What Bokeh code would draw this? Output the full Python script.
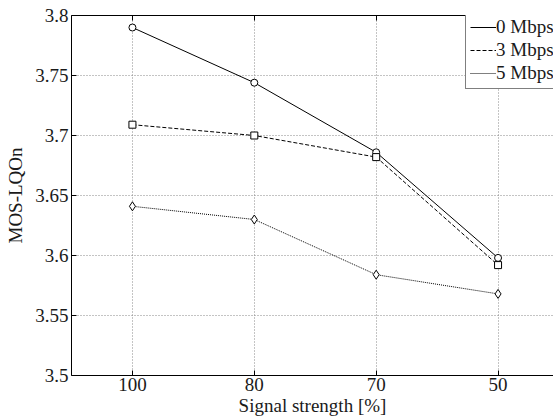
from bokeh.plotting import figure
from bokeh.models import FixedTicker, LinearAxis, Legend, LegendItem, Range1d
from bokeh.embed import file_html
from bokeh.resources import INLINE

signal_labels = ["100", "80", "70", "50"]
mos_0mbps = [3.790, 3.744, 3.686, 3.598]
mos_3mbps = [3.709, 3.700, 3.682, 3.592]
mos_5mbps = [3.641, 3.630, 3.584, 3.568]
y_ticks = [3.5, 3.55, 3.6, 3.65, 3.7, 3.75, 3.8]
y_tick_labels = ["3.5", "3.55", "3.6", "3.65", "3.7", "3.75", "3.8"]

xs = list(range(1, len(signal_labels) + 1))
FONT = "Liberation Serif"
TXT = "#1a1a1a"

p = figure(width=553, height=419, output_backend="svg", toolbar_location=None,
           x_range=Range1d(0.5, 4.455), y_range=Range1d(3.5, 3.8),
           min_border_left=71, min_border_right=0, min_border_top=15, min_border_bottom=44)
p.outline_line_color = None

p.xaxis.ticker = FixedTicker(ticks=xs)
p.xaxis.major_label_overrides = {x: l for x, l in zip(xs, signal_labels)}
p.yaxis.ticker = FixedTicker(ticks=y_ticks)
p.yaxis.major_label_overrides = {t: l for t, l in zip(y_ticks, y_tick_labels)}
p.xaxis.axis_label = "Signal strength [%]"
p.yaxis.axis_label = "MOS-LQOn"

for ax in [p.xaxis[0], p.yaxis[0]]:
    ax.major_tick_in = 5
    ax.major_tick_out = 0
    ax.minor_tick_in = 0
    ax.minor_tick_out = 0
    ax.axis_line_color = "black"
    ax.major_tick_line_color = "black"
    ax.major_label_text_font = FONT
    ax.major_label_text_font_size = "19px"
    ax.major_label_text_color = TXT
    ax.axis_label_text_font = FONT
    ax.axis_label_text_font_size = "19px"
    ax.axis_label_text_font_style = "normal"
    ax.axis_label_text_color = TXT
p.xaxis.major_label_standoff = 2
p.xaxis.axis_label_standoff = 1
p.yaxis.major_label_standoff = 3
p.yaxis.axis_label_standoff = 6

top = LinearAxis(ticker=FixedTicker(ticks=xs),
                 major_label_overrides={x: "" for x in xs},
                 major_label_text_font_size="1px", major_label_text_alpha=0,
                 major_label_standoff=0,
                 major_tick_in=5, major_tick_out=0, minor_tick_in=0, minor_tick_out=0,
                 axis_line_color="black", major_tick_line_color="black")
p.add_layout(top, "above")

for g in [p.xgrid[0], p.ygrid[0]]:
    g.grid_line_color = "#888888"
    g.grid_line_dash = "1 2"
    g.grid_line_width = 1

l0 = p.line(xs, mos_0mbps, line_color="black", line_width=1)
p.scatter(xs, mos_0mbps, marker="circle", size=7, line_color="black", fill_color="white", line_width=1)
l3 = p.line(xs, mos_3mbps, line_color="black", line_width=1, line_dash="4 2")
p.scatter(xs, mos_3mbps, marker="square", size=7, line_color="black", fill_color="white", line_width=1)
l5 = p.line(xs, mos_5mbps, line_color="black", line_width=1, line_dash="1 1")
p.scatter(xs, mos_5mbps, marker="diamond", size=9, line_color="black", fill_color="white", line_width=1)

legend = Legend(items=[LegendItem(label="0 Mbps", renderers=[l0]),
                       LegendItem(label="3 Mbps", renderers=[l3]),
                       LegendItem(label="5 Mbps", renderers=[l5])],
                location=(394, 286))
legend.label_text_font = FONT
legend.label_text_font_size = "19px"
legend.label_text_color = TXT
legend.glyph_width = 26
legend.glyph_height = 20
legend.label_height = 20
legend.label_standoff = 0
legend.spacing = 1
legend.padding = 4
legend.margin = 0
legend.border_line_color = "black"
legend.border_line_width = 1
legend.background_fill_color = "white"
legend.background_fill_alpha = 1
p.add_layout(legend)

open("out.html", "w").write(file_html(p, INLINE))
